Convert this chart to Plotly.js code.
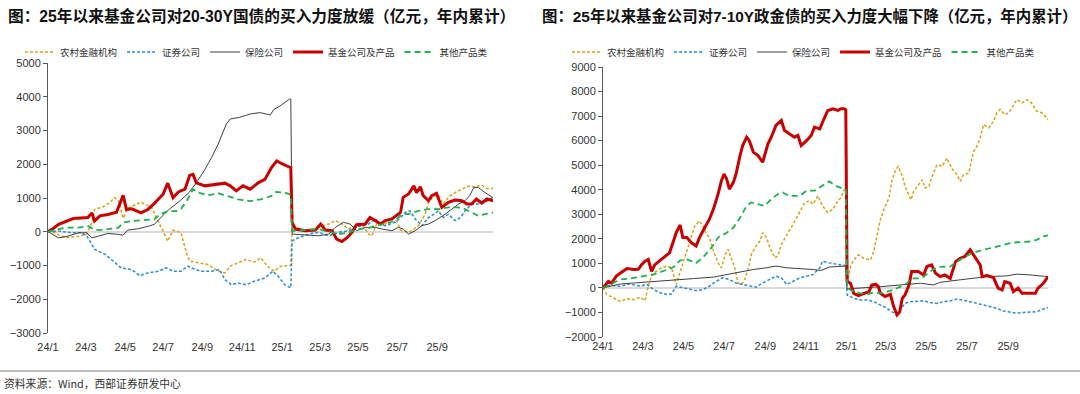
<!DOCTYPE html>
<html>
<head>
<meta charset="utf-8">
<script src="https://cdn.plot.ly/plotly-3.0.1.min.js"></script>
<style>
html,body{margin:0;padding:0;background:#fff;}
#chart{width:1080px;height:394px;}
</style>
</head>
<body>
<div id="chart"></div>
<script>
// ---------- labels ----------
const seriesNames = ["农村金融机构", "证券公司", "保险公司", "基金公司及产品", "其他产品类"];
const leftTitle = "图：25年以来基金公司对20-30Y国债的买入力度放缓（亿元，年内累计）";
const rightTitle = "图：25年以来基金公司对7-10Y政金债的买入力度大幅下降（亿元，年内累计）";
const sourceText = "资料来源：Wind，西部证券研发中心";
const xTickText = ["24/1","24/3","24/5","24/7","24/9","24/11","25/1","25/3","25/5","25/7","25/9"];

// ---------- LEFT chart: 20-30Y 国债 (亿元, 年内累计) ----------
const L_rural24 = [["2024-01-01",50],["2024-01-11",-30],["2024-01-27",-180],["2024-02-16",-130],["2024-02-28",-80],["2024-03-07",270],["2024-03-11",660],["2024-03-24",740],["2024-04-03",860],["2024-04-10",1010],["2024-04-16",910],["2024-04-23",400],["2024-04-30",700],["2024-05-20",880],["2024-06-05",710],["2024-06-17",220],["2024-06-29",-280],["2024-07-07",50],["2024-07-19",-30],["2024-07-27",-620],["2024-08-01",-870],["2024-08-14",-920],["2024-08-28",-970],["2024-09-13",-1170],["2024-09-23",-1220],["2024-10-01",-1020],["2024-10-13",-920],["2024-10-25",-820],["2024-11-06",-900],["2024-11-16",-770],["2024-11-26",-1020],["2024-12-06",-1170],["2024-12-16",-1020],["2024-12-26",-1020],["2024-12-31",-1000]];
const L_rural25 = [["2025-01-02",100],["2025-01-07",130],["2025-01-22",50],["2025-02-06",80],["2025-02-16",180],["2025-02-26",230],["2025-03-08",330],["2025-03-18",230],["2025-03-28",80],["2025-04-07",180],["2025-04-17",210],["2025-04-27",-70],["2025-05-02",-120],["2025-05-09",230],["2025-05-22",230],["2025-06-01",420],["2025-06-08",330],["2025-06-14",50],["2025-06-18",30],["2025-06-26",-20],["2025-07-04",80],["2025-07-11",180],["2025-07-21",520],["2025-07-26",870],["2025-08-03",1070],["2025-08-10",1070],["2025-08-17",820],["2025-08-25",1020],["2025-09-02",1140],["2025-09-09",1220],["2025-09-16",1280],["2025-09-24",1350],["2025-10-04",1330],["2025-10-14",1380],["2025-10-22",1280],["2025-10-31",1280]];

const L_sec24 = [["2024-01-01",0],["2024-01-17",20],["2024-02-06",-30],["2024-02-20",-30],["2024-02-28",-110],["2024-03-11",-520],["2024-03-27",-670],["2024-04-10",-920],["2024-04-20",-1070],["2024-05-06",-1120],["2024-05-18",-1300],["2024-05-30",-1220],["2024-06-15",-1170],["2024-06-27",-1070],["2024-07-07",-1170],["2024-07-19",-1170],["2024-07-29",-1020],["2024-08-06",-1090],["2024-08-18",-1170],["2024-09-03",-1170],["2024-09-15",-1120],["2024-09-23",-1420],["2024-10-03",-1570],["2024-10-13",-1520],["2024-10-25",-1570],["2024-11-06",-1470],["2024-11-22",-1370],["2024-12-04",-1170],["2024-12-12",-1320],["2024-12-22",-1570],["2024-12-31",-1660]];
const L_sec25 = [["2025-01-02",-270],["2025-01-12",-170],["2025-01-27",-70],["2025-02-11",-20],["2025-02-26",-120],["2025-03-13",-20],["2025-03-28",30],["2025-04-07",130],["2025-04-17",180],["2025-04-27",230],["2025-05-07",380],["2025-05-15",200],["2025-05-22",180],["2025-06-06",280],["2025-06-14",420],["2025-06-21",570],["2025-06-28",620],["2025-07-06",380],["2025-07-16",180],["2025-07-26",420],["2025-08-03",520],["2025-08-10",620],["2025-08-17",420],["2025-08-25",520],["2025-09-04",330],["2025-09-12",420],["2025-09-19",620],["2025-09-29",820],["2025-10-09",820],["2025-10-19",870],["2025-10-31",1020]];

const L_ins24 = [["2024-01-01",0],["2024-01-17",-180],["2024-01-31",-130],["2024-02-16",-30],["2024-02-28",-30],["2024-03-07",-180],["2024-03-17",-130],["2024-03-31",-50],["2024-04-16",-80],["2024-04-23",-100],["2024-04-30",50],["2024-05-16",90],["2024-06-01",170],["2024-06-09",220],["2024-06-16",370],["2024-07-01",660],["2024-07-17",910],["2024-07-31",1160],["2024-08-11",1450],["2024-08-24",1850],["2024-09-03",2200],["2024-09-13",2600],["2024-09-25",3190],["2024-10-01",3340],["2024-10-15",3390],["2024-10-31",3490],["2024-11-15",3530],["2024-11-30",3460],["2024-12-06",3630],["2024-12-15",3730],["2024-12-29",3930],["2024-12-31",3930]];
const L_ins25 = [["2025-01-02",-70],["2025-01-22",-90],["2025-02-11",-120],["2025-02-26",-70],["2025-03-08",130],["2025-03-20",280],["2025-03-30",230],["2025-04-09",30],["2025-04-22",130],["2025-05-07",130],["2025-05-17",80],["2025-06-01",30],["2025-06-11",130],["2025-06-18",80],["2025-06-26",-70],["2025-07-06",30],["2025-07-16",180],["2025-07-26",230],["2025-08-05",330],["2025-08-20",520],["2025-08-30",670],["2025-09-09",820],["2025-09-19",920],["2025-09-26",1070],["2025-10-02",1310],["2025-10-09",1310],["2025-10-19",1160],["2025-10-31",1010]];

const L_fund24 = [["2024-01-01",0],["2024-01-07",70],["2024-01-17",220],["2024-01-31",320],["2024-02-08",390],["2024-03-01",420],["2024-03-07",560],["2024-03-11",320],["2024-03-19",470],["2024-03-31",510],["2024-04-13",580],["2024-04-23",1080],["2024-04-28",660],["2024-05-06",680],["2024-05-20",560],["2024-05-30",660],["2024-06-09",840],["2024-06-22",1110],["2024-06-29",1440],["2024-07-07",1010],["2024-07-15",1180],["2024-07-25",1260],["2024-08-01",1670],["2024-08-06",1700],["2024-08-11",1450],["2024-08-24",1360],["2024-09-07",1400],["2024-09-23",1440],["2024-10-01",1360],["2024-10-10",1210],["2024-10-20",1360],["2024-10-31",1260],["2024-11-12",1450],["2024-11-22",1550],["2024-12-02",1900],["2024-12-10",2100],["2024-12-19",2000],["2024-12-29",1900],["2024-12-31",1900]];
const L_fund25 = [["2025-01-02",280],["2025-01-07",80],["2025-01-22",30],["2025-02-06",50],["2025-02-14",230],["2025-02-21",50],["2025-03-03",30],["2025-03-10",-220],["2025-03-18",-290],["2025-03-26",-170],["2025-04-02",-20],["2025-04-09",210],["2025-04-22",230],["2025-04-29",420],["2025-05-07",330],["2025-05-15",230],["2025-05-22",330],["2025-06-01",380],["2025-06-14",570],["2025-06-18",1020],["2025-06-26",1120],["2025-07-04",1360],["2025-07-08",1160],["2025-07-14",1330],["2025-07-18",1070],["2025-07-26",920],["2025-07-31",1070],["2025-08-07",1140],["2025-08-15",720],["2025-08-25",870],["2025-09-04",940],["2025-09-14",920],["2025-09-22",820],["2025-09-29",820],["2025-10-06",970],["2025-10-14",850],["2025-10-22",970],["2025-10-31",920]];

const L_other24 = [["2024-01-01",0],["2024-01-27",120],["2024-02-16",120],["2024-03-01",170],["2024-03-11",60],["2024-03-21",50],["2024-04-16",120],["2024-04-23",270],["2024-05-06",320],["2024-05-26",340],["2024-06-09",370],["2024-06-17",510],["2024-06-29",610],["2024-07-12",610],["2024-07-19",680],["2024-07-29",960],["2024-08-06",1260],["2024-08-14",1160],["2024-08-28",1080],["2024-09-13",1140],["2024-09-27",1060],["2024-10-13",960],["2024-10-31",910],["2024-11-16",960],["2024-12-02",1060],["2024-12-09",1180],["2024-12-22",1160],["2024-12-31",1100]];
const L_other25 = [["2025-01-02",30],["2025-01-22",50],["2025-02-11",80],["2025-02-26",0],["2025-03-13",-70],["2025-03-28",-20],["2025-04-12",80],["2025-04-27",110],["2025-05-07",180],["2025-05-22",230],["2025-06-06",330],["2025-06-16",520],["2025-06-26",520],["2025-07-11",620],["2025-07-26",670],["2025-08-10",670],["2025-08-25",720],["2025-09-09",720],["2025-09-19",670],["2025-09-29",570],["2025-10-09",470],["2025-10-19",520],["2025-10-31",570]];

// ---------- RIGHT chart: 7-10Y 政金债 (亿元, 年内累计) ----------
const R_rural24 = [["2024-01-01",0],["2024-01-07",-270],["2024-01-17",-410],["2024-01-27",-550],["2024-02-06",-440],["2024-02-16",-480],["2024-02-26",-380],["2024-03-04",-520],["2024-03-09",70],["2024-03-14",480],["2024-03-21",680],["2024-03-29",820],["2024-04-06",890],["2024-04-13",820],["2024-04-20",140],["2024-04-28",820],["2024-05-03",1230],["2024-05-10",1770],["2024-05-18",2520],["2024-05-25",2730],["2024-05-30",2520],["2024-06-05",2180],["2024-06-09",2050],["2024-06-15",1500],["2024-06-22",1020],["2024-06-27",820],["2024-07-03",1360],["2024-07-07",1570],["2024-07-12",1230],["2024-07-17",820],["2024-07-22",200],["2024-07-27",140],["2024-08-01",340],["2024-08-06",750],["2024-08-11",1360],["2024-08-18",1710],["2024-08-24",1910],["2024-08-28",2250],["2024-09-03",2050],["2024-09-08",1640],["2024-09-15",1230],["2024-09-20",1300],["2024-09-25",1770],["2024-10-03",2110],["2024-10-10",2460],["2024-10-17",2800],["2024-10-25",3210],["2024-10-30",3480],["2024-11-06",3550],["2024-11-12",3410],["2024-11-19",3750],["2024-11-26",3340],["2024-12-04",3070],["2024-12-12",3210],["2024-12-19",3550],["2024-12-24",3680],["2024-12-29",4020],["2024-12-31",3900]];
const R_rural25 = [["2025-01-02",120],["2025-01-07",870],["2025-01-12",1140],["2025-01-19",1350],["2025-01-27",1210],["2025-02-06",1140],["2025-02-11",1480],["2025-02-16",2100],["2025-02-21",2780],["2025-02-28",3320],["2025-03-06",3660],["2025-03-10",4340],["2025-03-16",4820],["2025-03-20",4950],["2025-03-26",4540],["2025-03-30",4140],["2025-04-05",3800],["2025-04-08",3590],["2025-04-12",3930],["2025-04-19",4200],["2025-04-25",4410],["2025-04-29",4070],["2025-05-05",4140],["2025-05-09",4480],["2025-05-17",5020],["2025-05-25",4950],["2025-06-01",5290],["2025-06-08",4880],["2025-06-16",4610],["2025-06-21",4340],["2025-06-26",4610],["2025-07-04",4680],["2025-07-11",5560],["2025-07-16",5770],["2025-07-21",6110],["2025-07-26",6650],["2025-08-03",6520],["2025-08-10",6790],["2025-08-15",7130],["2025-08-20",7270],["2025-08-27",7060],["2025-09-02",7130],["2025-09-09",7470],["2025-09-14",7670],["2025-09-22",7540],["2025-09-29",7670],["2025-10-06",7540],["2025-10-14",7200],["2025-10-22",7130],["2025-10-26",6990],["2025-10-31",6860]];

const R_sec24 = [["2024-01-01",0],["2024-01-11",110],["2024-01-27",70],["2024-02-10",160],["2024-02-26",70],["2024-03-07",140],["2024-03-17",-70],["2024-03-27",-200],["2024-04-06",-270],["2024-04-13",-250],["2024-04-20",70],["2024-04-30",0],["2024-05-10",-70],["2024-05-20",-110],["2024-05-30",-70],["2024-06-09",70],["2024-06-19",270],["2024-06-29",410],["2024-07-09",340],["2024-07-19",200],["2024-07-29",140],["2024-08-08",70],["2024-08-18",30],["2024-08-28",200],["2024-09-08",340],["2024-09-17",480],["2024-09-25",410],["2024-10-03",140],["2024-10-13",270],["2024-10-23",410],["2024-11-02",480],["2024-11-12",550],["2024-11-22",820],["2024-11-26",1090],["2024-12-06",1020],["2024-12-19",950],["2024-12-29",890],["2024-12-31",900]];
const R_sec25 = [["2025-01-02",-290],["2025-01-12",-420],["2025-01-22",-490],["2025-02-01",-490],["2025-02-11",-560],["2025-02-21",-690],["2025-03-03",-830],["2025-03-10",-970],["2025-03-18",-1070],["2025-03-23",-900],["2025-03-30",-630],["2025-04-07",-560],["2025-04-17",-560],["2025-04-27",-530],["2025-05-07",-590],["2025-05-17",-630],["2025-05-27",-560],["2025-06-06",-530],["2025-06-16",-450],["2025-06-26",-490],["2025-07-06",-560],["2025-07-16",-630],["2025-07-26",-690],["2025-08-05",-760],["2025-08-15",-830],["2025-08-25",-940],["2025-09-04",-970],["2025-09-14",-1030],["2025-09-24",-1000],["2025-10-04",-1000],["2025-10-14",-970],["2025-10-24",-860],["2025-10-31",-800]];

const R_ins24 = [["2024-01-01",0],["2024-01-27",160],["2024-02-16",200],["2024-03-17",270],["2024-04-16",340],["2024-05-16",380],["2024-06-15",440],["2024-07-05",550],["2024-07-25",640],["2024-08-14",750],["2024-09-03",820],["2024-09-17",890],["2024-10-03",820],["2024-10-23",790],["2024-11-12",750],["2024-11-24",710],["2024-12-06",850],["2024-12-29",890],["2024-12-31",890]];
const R_ins25 = [["2025-01-02",-40],["2025-01-22",-10],["2025-02-21",50],["2025-03-23",120],["2025-04-22",190],["2025-05-12",120],["2025-05-22",230],["2025-06-21",330],["2025-07-11",390],["2025-07-31",460],["2025-08-30",490],["2025-09-14",560],["2025-10-04",530],["2025-10-31",460]];

const R_fund24 = [["2024-01-01",0],["2024-01-09",270],["2024-01-14",200],["2024-01-21",480],["2024-01-31",680],["2024-02-06",790],["2024-02-16",750],["2024-02-23",760],["2024-02-28",950],["2024-03-04",1090],["2024-03-09",1160],["2024-03-14",680],["2024-03-19",950],["2024-03-27",1120],["2024-04-03",1300],["2024-04-10",1430],["2024-04-16",1910],["2024-04-20",2250],["2024-04-26",2560],["2024-04-30",2050],["2024-05-06",2050],["2024-05-13",1840],["2024-05-20",1710],["2024-05-25",2050],["2024-06-02",2460],["2024-06-09",2800],["2024-06-15",3210],["2024-06-22",3820],["2024-06-27",4370],["2024-07-01",4640],["2024-07-05",4430],["2024-07-09",4020],["2024-07-15",4300],["2024-07-19",4640],["2024-07-25",5390],["2024-07-29",5800],["2024-08-04",6140],["2024-08-08",6000],["2024-08-14",5530],["2024-08-21",5390],["2024-08-28",5120],["2024-08-31",5390],["2024-09-05",5870],["2024-09-10",6140],["2024-09-17",6620],["2024-09-25",6820],["2024-09-30",6410],["2024-10-07",6280],["2024-10-15",6140],["2024-10-20",6210],["2024-10-25",5800],["2024-11-02",6000],["2024-11-09",6210],["2024-11-14",6550],["2024-11-22",6480],["2024-11-26",6750],["2024-12-04",7230],["2024-12-12",7300],["2024-12-19",7230],["2024-12-24",7300],["2024-12-29",7300],["2024-12-31",7250]];
const R_fund25 = [["2025-01-02",260],["2025-01-07",190],["2025-01-12",-220],["2025-01-19",-310],["2025-01-27",-220],["2025-02-04",-150],["2025-02-08",120],["2025-02-14",150],["2025-02-18",50],["2025-02-21",-220],["2025-02-28",-350],["2025-03-08",-260],["2025-03-13",-760],["2025-03-18",-1100],["2025-03-22",-970],["2025-03-26",-420],["2025-03-30",-290],["2025-04-05",120],["2025-04-09",670],["2025-04-19",670],["2025-04-27",530],["2025-05-02",870],["2025-05-09",940],["2025-05-15",600],["2025-05-22",460],["2025-05-29",530],["2025-06-06",390],["2025-06-14",1070],["2025-06-21",1210],["2025-06-28",1280],["2025-07-06",1550],["2025-07-11",1350],["2025-07-16",1140],["2025-07-21",940],["2025-07-24",460],["2025-07-31",500],["2025-08-10",420],["2025-08-17",-10],["2025-08-23",-80],["2025-08-27",260],["2025-09-04",190],["2025-09-09",-150],["2025-09-16",-10],["2025-09-22",-220],["2025-09-29",-220],["2025-10-06",-220],["2025-10-12",-220],["2025-10-16",-10],["2025-10-24",190],["2025-10-31",460]];

const R_other24 = [["2024-01-01",0],["2024-01-11",140],["2024-01-27",340],["2024-02-10",380],["2024-03-01",480],["2024-03-17",550],["2024-03-31",680],["2024-04-16",850],["2024-04-26",1120],["2024-05-06",1160],["2024-05-20",1020],["2024-05-30",1230],["2024-06-12",1640],["2024-06-22",2050],["2024-07-05",2250],["2024-07-15",2460],["2024-07-25",2860],["2024-08-04",3340],["2024-08-11",3480],["2024-08-21",3410],["2024-08-31",3340],["2024-09-10",3620],["2024-09-20",3820],["2024-09-27",3890],["2024-10-07",3750],["2024-10-23",3750],["2024-11-02",3960],["2024-11-14",3960],["2024-11-24",4120],["2024-12-06",4340],["2024-12-16",4160],["2024-12-29",4020],["2024-12-31",4000]];
const R_other25 = [["2025-01-02",0],["2025-01-12",-150],["2025-01-22",-220],["2025-02-01",-260],["2025-02-11",-180],["2025-02-21",-220],["2025-03-03",-150],["2025-03-13",-80],["2025-03-23",50],["2025-04-02",190],["2025-04-09",390],["2025-04-19",390],["2025-04-27",460],["2025-05-07",670],["2025-05-17",830],["2025-05-27",870],["2025-06-06",870],["2025-06-16",1070],["2025-06-26",1240],["2025-07-06",1370],["2025-07-16",1480],["2025-07-26",1550],["2025-08-05",1620],["2025-08-15",1690],["2025-08-25",1780],["2025-09-04",1820],["2025-09-14",1860],["2025-09-24",1890],["2025-10-04",1890],["2025-10-14",1960],["2025-10-24",2100],["2025-10-31",2140]];

// ---------- styles ----------
const styles = [
  {color: "#D9A21B", width: 1.5, dash: "3px,2px"},
  {color: "#2A8BDB", width: 1.5, dash: "3px,2px"},
  {color: "#404040", width: 1, dash: "solid"},
  {color: "#C80000", width: 3, dash: "solid"},
  {color: "#1FB14E", width: 1.8, dash: "6px,4px"}
];

const leftSets = [[L_rural24, L_rural25], [L_sec24, L_sec25], [L_ins24, L_ins25], [L_fund24, L_fund25], [L_other24, L_other25]];
const rightSets = [[R_rural24, R_rural25], [R_sec24, R_sec25], [R_ins24, R_ins25], [R_fund24, R_fund25], [R_other24, R_other25]];

function mk(sets, i, xa, ya, leg) {
  const pts = sets[0].concat(sets[1]);
  return {
    type: "scatter", mode: "lines", name: seriesNames[i],
    x: pts.map(p => p[0]), y: pts.map(p => p[1]),
    xaxis: xa, yaxis: ya, legend: leg,
    line: {color: styles[i].color, width: styles[i].width, dash: styles[i].dash},
    hoverinfo: "skip"
  };
}

const traces = [];
for (let i = 0; i < 5; i++) traces.push(mk(leftSets[i], i, "x", "y", "legend"));
for (let i = 0; i < 5; i++) traces.push(mk(rightSets[i], i, "x2", "y2", "legend2"));

const W = 1080, H = 394;
const tickFont = {family: "Liberation Sans, Arial, sans-serif", size: 11, color: "#333333"};
const cjk = "Noto Sans CJK SC, sans-serif";

const rightTickVals = ["2024-01-01","2024-03-01","2024-05-01","2024-07-01","2024-09-01","2024-11-01","2025-01-01","2025-03-01","2025-05-01","2025-07-01","2025-09-01"];
const leftTickVals = ["2024-01-01","2024-02-27","2024-04-26","2024-06-22","2024-08-20","2024-10-19","2024-12-18","2025-02-13","2025-04-11","2025-06-09","2025-08-08"];

function xaxisCfg(d0, d1, tv) {
  return {
    type: "date", domain: [d0 / W, d1 / W], range: ["2024-01-01", "2025-10-31"],
    tickmode: "array", tickvals: tv, ticktext: xTickText,
    showgrid: false, zeroline: false, showline: false, ticks: "",
    tickfont: tickFont, fixedrange: true
  };
}
function yaxisCfg(top, bot, r, dt, anchor) {
  return {
    domain: [1 - bot / H, 1 - top / H], range: r, dtick: dt, tick0: 0,
    showgrid: false, zeroline: true, zerolinecolor: "#D9D9D9", zerolinewidth: 1.5,
    showline: true, linecolor: "#595959", linewidth: 1,
    ticks: "outside", ticklen: 4, tickcolor: "#595959",
    tickfont: tickFont, anchor: anchor, fixedrange: true
  };
}

const layout = {
  width: W, height: H,
  margin: {l: 0, r: 0, t: 0, b: 0},
  paper_bgcolor: "#ffffff", plot_bgcolor: "#ffffff",
  showlegend: true,
  xaxis: Object.assign(xaxisCfg(48, 493, leftTickVals), {anchor: "y", ticklabelstandoff: 6}),
  yaxis: yaxisCfg(63, 333, [-3000, 5000], 1000, "x"),
  xaxis2: Object.assign(xaxisCfg(603, 1048, rightTickVals), {anchor: "y2", ticklabelstandoff: 1}),
  yaxis2: yaxisCfg(67, 337, [-2000, 9000], 1000, "x2"),
  legend: {
    orientation: "h", x: 20 / W, xanchor: "left", y: 1 - 52 / H, yanchor: "middle",
    font: {family: cjk, size: 9.5, color: "#333333"}, bgcolor: "rgba(0,0,0,0)", itemwidth: 30
  },
  legend2: {
    orientation: "h", x: 567 / W, xanchor: "left", y: 1 - 52 / H, yanchor: "middle",
    font: {family: cjk, size: 9.5, color: "#333333"}, bgcolor: "rgba(0,0,0,0)", itemwidth: 30
  },
  annotations: [
    {text: "<b>" + leftTitle + "</b>", xref: "paper", yref: "paper", x: 6 / W, y: 1 - 16 / H,
     xanchor: "left", yanchor: "middle", showarrow: false,
     font: {family: "Liberation Sans, " + cjk, size: 15.7, color: "#111111"}},
    {text: "<b>" + rightTitle + "</b>", xref: "paper", yref: "paper", x: 540 / W, y: 1 - 16 / H,
     xanchor: "left", yanchor: "middle", showarrow: false,
     font: {family: "Liberation Sans, " + cjk, size: 15.4, color: "#111111"}},
    {text: sourceText, xref: "paper", yref: "paper", x: 2 / W, y: 1 - 383 / H,
     xanchor: "left", yanchor: "middle", showarrow: false,
     font: {family: cjk, size: 10.8, color: "#333333"}}
  ],
  shapes: [
    {type: "line", xref: "paper", yref: "paper", x0: 0, x1: 1, y0: 1 - 371 / H, y1: 1 - 371 / H,
     line: {color: "#7F7F7F", width: 1}}
  ]
};

Plotly.newPlot("chart", traces, layout, {staticPlot: true, displayModeBar: false});
</script>
</body>
</html>
